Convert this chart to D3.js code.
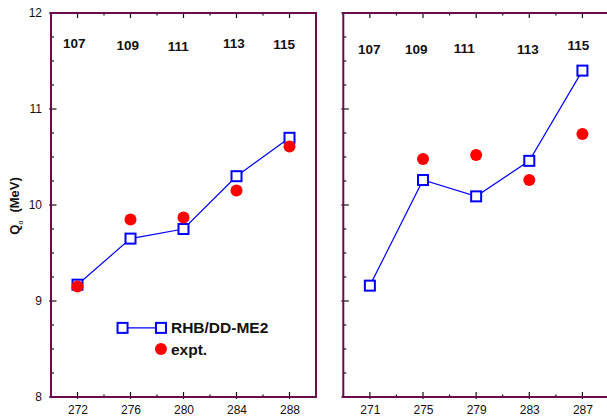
<!DOCTYPE html>
<html><head><meta charset="utf-8">
<script src="https://cdn.jsdelivr.net/npm/d3@7"></script>
<style>body{margin:0;background:#fff}svg{display:block}text{font-family:"Liberation Sans",Arial,sans-serif}</style>
</head><body><svg id="c" width="607" height="416"></svg>
<script>
// Left panel data
const leftA = [272, 276, 280, 284, 288];
const leftRHB = [9.17, 9.65, 9.75, 10.30, 10.70];
const leftExpt = [9.15, 9.85, 9.87, 10.15, 10.61];
const leftZ = ["107", "109", "111", "113", "115"];
const leftZx = [271.75, 275.8, 279.6, 283.8, 287.6];
const leftZy = [11.68, 11.66, 11.65, 11.68, 11.67];
const leftTicks = [272, 276, 280, 284, 288];
// Right panel data
const rightA = [271, 275, 279, 283, 287];
const rightRHB = [9.16, 10.26, 10.09, 10.46, 11.40];
const rightExptA = [275, 279, 283, 287];
const rightExpt = [10.48, 10.52, 10.26, 10.74];
const rightZ = ["107", "109", "111", "113", "115"];
const rightZx = [270.95, 274.5, 278.1, 282.9, 286.7];
const rightZy = [11.62, 11.62, 11.63, 11.62, 11.66];
const rightTicks = [271, 275, 279, 283, 287];
const yTicks = [8, 9, 10, 11, 12];
const legendLabels = ["RHB/DD-ME2", "expt."];

const svg = d3.select("#c");
const frameColor = "#6b0a4e";
const plotTop = 13, plotBottom = 397;
const y = d3.scaleLinear().domain([8, 12]).range([plotBottom, plotTop]);

function panel(x0, x1, domain, ticks, A, rhb, eA, ex, Z, Zx, Zy, showY) {
  const x = d3.scaleLinear().domain(domain).range([x0, x1]);
  const g = svg.append("g");
  const minorX = d3.range(domain[0], domain[1] + 0.001, 2);
  const minorY = d3.range(8, 12.001, 0.25);
  g.append("g").attr("transform", `translate(0,${plotBottom})`)
    .call(d3.axisBottom(x).tickValues(ticks).tickSize(0).tickPadding(8).tickFormat(d3.format("d")))
    .call(s => s.select(".domain").remove())
    .call(s => s.selectAll("text").attr("font-size", 12).attr("fill", "#111"));
  const tg = g.append("g").attr("stroke", "#111").attr("stroke-width", 1.2);
  minorX.forEach(v => {
    const major = ticks.includes(v);
    const L = major ? 5 : 2.5;
    tg.append("line").attr("x1", x(v)).attr("x2", x(v)).attr("y1", plotBottom + (major ? 2 : 0)).attr("y2", plotBottom - L);
    tg.append("line").attr("x1", x(v)).attr("x2", x(v)).attr("y1", plotTop).attr("y2", plotTop + L);
  });
  minorY.forEach(v => {
    const major = Number.isInteger(v);
    const L = major ? 5.5 : 3;
    tg.append("line").attr("x1", x0 - (major ? 2 : 0)).attr("x2", x0 + L).attr("y1", y(v)).attr("y2", y(v));
  });
  if (showY) {
    g.append("g").attr("transform", `translate(${x0},0)`)
      .call(d3.axisLeft(y).tickValues(yTicks).tickSize(0).tickPadding(9).tickFormat(d3.format("d")))
      .call(s => s.select(".domain").remove())
      .call(s => s.selectAll("text").attr("font-size", 12).attr("fill", "#111"));
  }
  g.append("rect").attr("x", x0).attr("y", plotTop).attr("width", x1 - x0).attr("height", plotBottom - plotTop)
    .attr("fill", "none").attr("stroke", frameColor).attr("stroke-width", 2);
  g.append("path").datum(A.map((a, i) => [a, rhb[i]]))
    .attr("d", d3.line().x(d => x(d[0])).y(d => y(d[1])))
    .attr("fill", "none").attr("stroke", "#0000ff").attr("stroke-width", 1.2);
  g.selectAll(null).data(A.map((a, i) => [a, rhb[i]])).enter().append("rect")
    .attr("x", d => x(d[0]) - 5).attr("y", d => y(d[1]) - 5).attr("width", 10).attr("height", 10)
    .attr("fill", "#fff").attr("stroke", "#0000ff").attr("stroke-width", 2);
  g.selectAll(null).data(eA.map((a, i) => [a, ex[i]])).enter().append("circle")
    .attr("cx", d => x(d[0])).attr("cy", d => y(d[1])).attr("r", 6).attr("fill", "#ff0000");
  g.selectAll(null).data(Z).enter().append("text")
    .attr("x", (d, i) => x(Zx[i])).attr("y", (d, i) => y(Zy[i]))
    .attr("text-anchor", "middle").attr("dominant-baseline", "central")
    .attr("font-size", 13.5).attr("font-weight", "bold").attr("fill", "#111").text(d => d);
  return x;
}

const xl = panel(51, 316, [270, 290], leftTicks, leftA, leftRHB, leftA, leftExpt, leftZ, leftZx, leftZy, true);
panel(343.3, 609, [269, 289], rightTicks, rightA, rightRHB, rightExptA, rightExpt, rightZ, rightZx, rightZy, false);

const yl = svg.append("text").attr("transform", `translate(19,${y(9.99)}) rotate(-90)`)
  .attr("text-anchor", "middle").attr("font-size", 13).attr("font-weight", "bold").attr("fill", "#111");
yl.append("tspan").text("Q");
yl.append("tspan").attr("font-size", 7).attr("font-weight", "normal").attr("dy", 4).text("α");
yl.append("tspan").attr("dy", -4).attr("dx", 8).text("(MeV)");

const lg = svg.append("g");
const ly1 = y(8.72), ly2 = y(8.5);
const lx1 = xl(275.4), lx2 = xl(278.3);
lg.append("line").attr("x1", lx1).attr("x2", lx2).attr("y1", ly1).attr("y2", ly1).attr("stroke", "#0000ff").attr("stroke-width", 1.2);
[lx1, lx2].forEach(xx => lg.append("rect").attr("x", xx - 5).attr("y", ly1 - 5).attr("width", 10).attr("height", 10)
  .attr("fill", "#fff").attr("stroke", "#0000ff").attr("stroke-width", 2));
lg.append("circle").attr("cx", lx2).attr("cy", ly2).attr("r", 6).attr("fill", "#ff0000");
lg.selectAll(null).data(legendLabels).enter().append("text")
  .attr("x", lx2 + 10).attr("y", (d, i) => i ? ly2 : ly1).attr("dominant-baseline", "central")
  .attr("font-size", 15.5).attr("font-weight", "bold").attr("fill", "#111").text(d => d);
</script></body></html>
